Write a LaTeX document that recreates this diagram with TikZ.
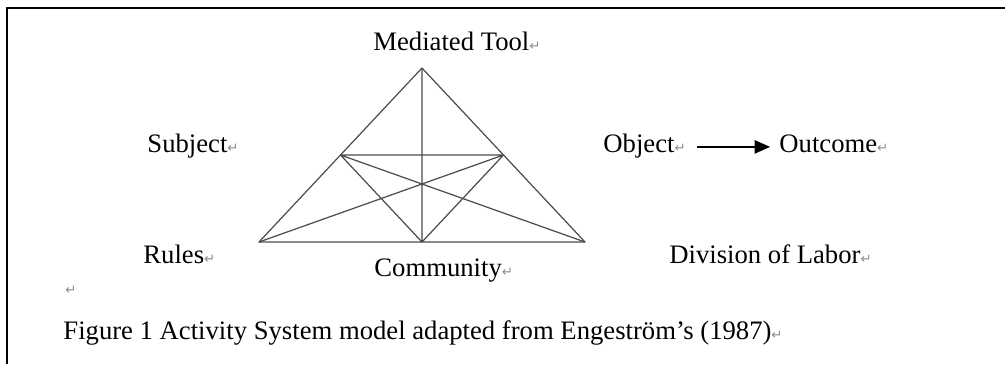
\documentclass[tikz,border=0pt]{standalone}
\usepackage{fontspec}
\setmainfont{Liberation Serif}
\newfontfamily\markfont{DejaVu Sans}
\usetikzlibrary{arrows.meta,calc}
\newcommand{\pmark}{{\markfont\fontsize{6}{6}\selectfont\textcolor{black!45}{↵}}}

\begin{document}
\begin{tikzpicture}[x=0.45pt, y=-0.45pt,
    lbl/.style={anchor=base west, inner sep=0pt, font=\fontsize{12}{14}\selectfont},
    side/.style={draw=black!70, line width=0.55pt, line join=round}]
  \useasboundingbox (0,0) rectangle (1005,364);
  % box round the figure
  \draw[line width=1pt] (7,364) -- (7,8) -- (1005,8);
  % triangle corners and midpoints
  \coordinate (top) at (422,68);
  \coordinate (bl) at (259,242);
  \coordinate (br) at (585,242);
  \coordinate (bm) at ($(bl)!0.5!(br)$);
  \coordinate (ml) at ($(top)!0.5!(bl)$);
  \coordinate (mr) at ($(top)!0.5!(br)$);
  \draw[side] (top) -- (bl) -- (br) -- cycle;
  \draw[side] (top) -- (bm)
              (ml) -- (mr)
              (ml) -- (bm) -- (mr)
              (ml) -- (br)
              (mr) -- (bl);
  % labels
  \node[lbl] (tool)  at (373,50)  {Mediated Tool\pmark};
  \node[lbl] (subj)  at (147,152) {Subject\pmark};
  \node[lbl] (obj)   at (603,152) {Object\pmark};
  \node[lbl] (out)   at (779,152) {Outcome\pmark};
  \node[lbl] (rules) at (143,263) {Rules\pmark};
  \node[lbl] (comm)  at (374,276) {Community\pmark};
  \node[lbl] (labor) at (669,263) {Division of Labor\pmark};
  \node[lbl] (blank) at (65,294)  {\pmark};
  \node[lbl] (cap)   at (63,339)  {Figure 1 Activity System model adapted from Engeström’s (1987)\pmark};
  \draw[-{Triangle[length=7pt,width=6pt]}, line width=0.7pt,
        shorten <=5pt, shorten >=4pt] (obj.mid east) -- (out.mid west);
\end{tikzpicture}
\end{document}
